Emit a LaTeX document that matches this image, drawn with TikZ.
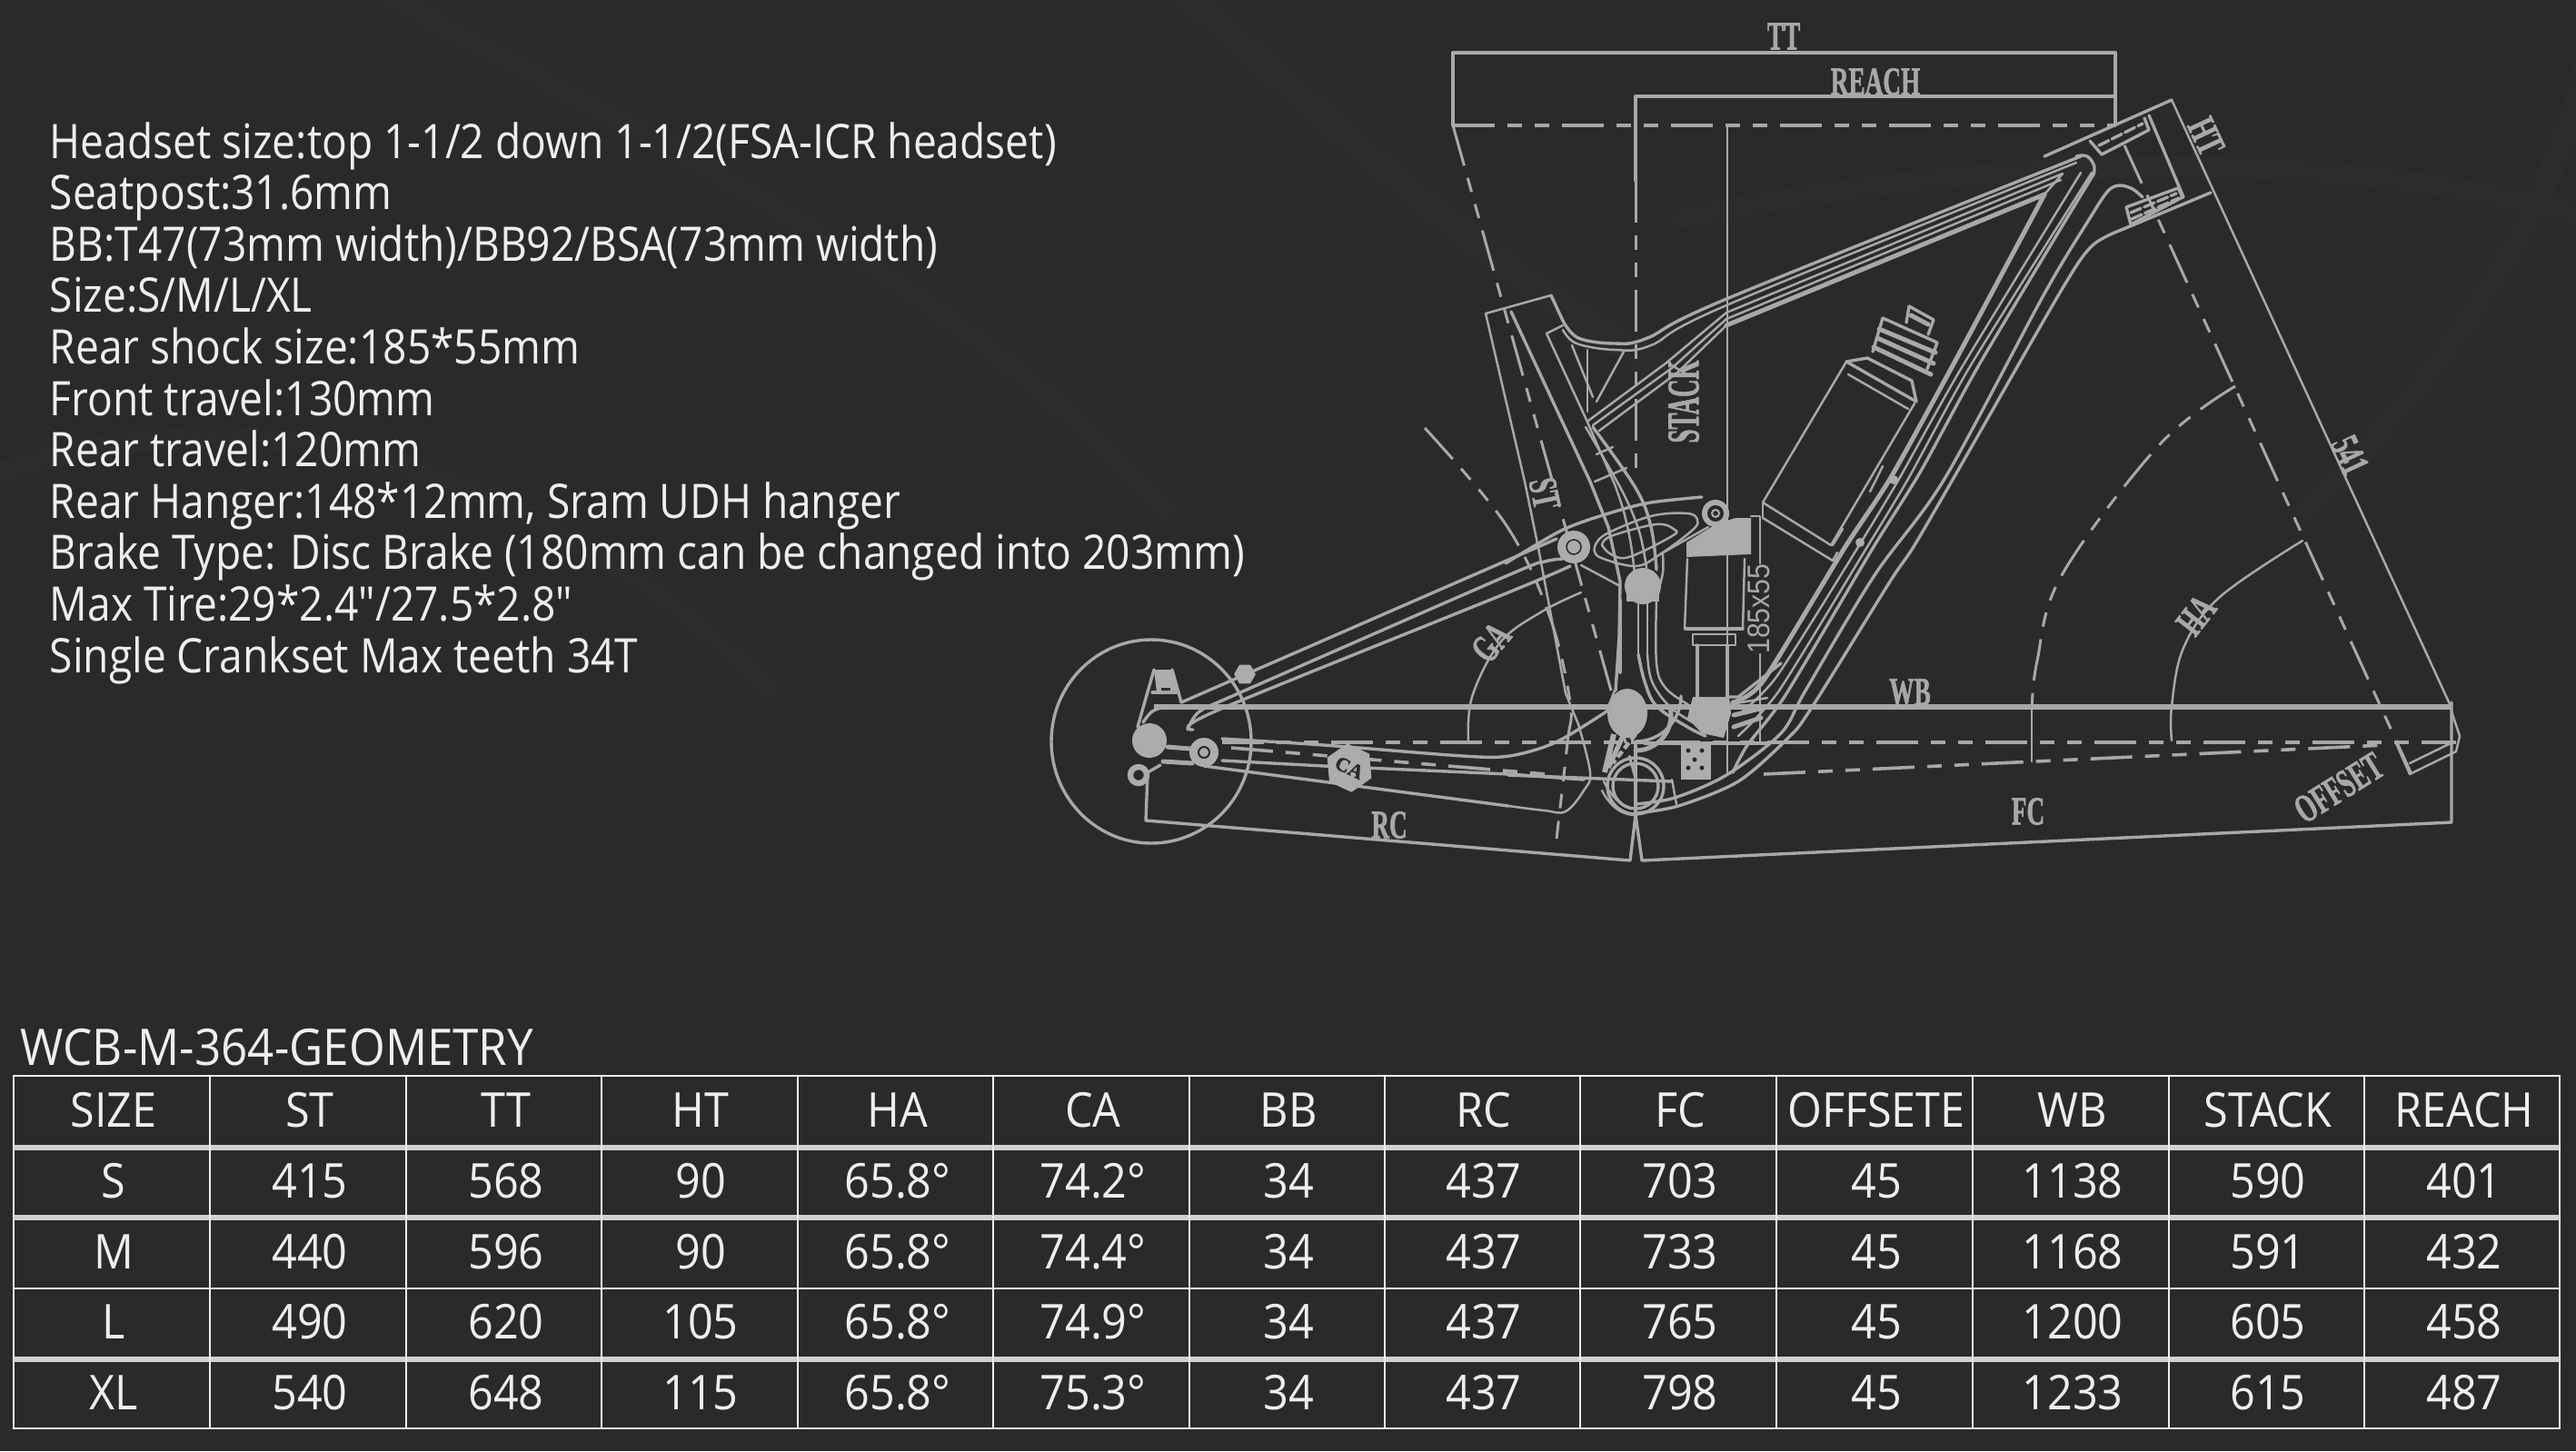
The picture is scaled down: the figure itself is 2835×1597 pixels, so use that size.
\documentclass[tikz,border=0pt]{standalone}
\usepackage{fontspec}
\usepackage{graphicx}
\usetikzlibrary{shapes.geometric}
\newfontfamily\osf{Open Sans}[FakeStretch=0.88]
\newfontfamily\osg{Open Sans}[FakeStretch=0.92]
\newfontfamily\lsb{Liberation Serif}[BoldFeatures={FakeBold=1.6}]
\newfontfamily\lsa{Liberation Sans}
\definecolor{bgc}{HTML}{292A2B}
\definecolor{bgb}{HTML}{2B2C2D}
\definecolor{ln}{HTML}{A8A8A8}
\definecolor{fl}{HTML}{ACACAC}
\definecolor{txt}{HTML}{EEEEEE}
\tikzset{
  thinl/.style={draw=ln,line width=.62pt,line join=round,line cap=round},
  midl/.style={draw=ln,line width=.85pt,line join=round,line cap=round},
  fatl/.style={draw=ln,line width=1.25pt,line join=round,line cap=round},
  dashl/.style={draw=ln,line width=.75pt,dash pattern=on 11.5pt off 3.5pt on 4pt off 3.5pt on 4pt off 3.5pt},
  dashb/.style={draw=ln,line width=.9pt,dash pattern=on 11.5pt off 3.5pt on 4pt off 3.5pt on 4pt off 3.5pt},
  fillp/.style={fill=fl,draw=fl,line width=.4pt,line join=round},
  dimlab/.style={text=ln,inner sep=0pt,font=\lsb\bfseries\fontsize{11}{11}\selectfont},
  infot/.style={text=txt,inner sep=0pt,anchor=base west,font=\osf\fontsize{13.1}{15}\selectfont},
  cellt/.style={text=txt,inner sep=0pt,anchor=base,font=\osg\fontsize{13.2}{15}\selectfont},
  thinrule/.style={draw=txt,line width=.7pt},
  thickrule/.style={draw=txt!85!bgc,line width=1.4pt},
}
\begin{document}
\begin{tikzpicture}[x=.25pt,y=-.25pt]
\useasboundingbox (0,0) rectangle (2835,1597);
\fill[bgc] (0,0) rectangle (2835,1597);
% faint background swooshes
\begin{scope}[draw=bgb,line cap=round]
\draw[line width=9pt] (1290,-20) .. controls (1500,170) and (1650,300) .. (1820,400);
\draw[line width=7pt] (400,-20) .. controls (700,150) and (1050,300) .. (1280,560);
\draw[line width=6pt] (1850,240) .. controls (2250,160) and (2600,170) .. (2850,240);
\draw[line width=7pt] (2540,560) .. controls (2680,420) and (2800,260) .. (2850,60);
\draw[line width=6pt] (0,520) .. controls (300,420) and (600,520) .. (850,760);
\end{scope}
% ---- text block
\foreach \t [count=\i] in {
 {Headset size:top 1-1/2 down 1-1/2(FSA-ICR headset)},
 {Seatpost:31.6mm},
 {BB:T47(73mm width)/BB92/BSA(73mm width)},
 {Size:S/M/L/XL},
 {Rear shock size:185*55mm},
 {Front travel:130mm},
 {Rear travel:120mm},
 {Rear Hanger:148*12mm, Sram UDH hanger},
 {Brake Type: Disc Brake (180mm can be changed into 203mm)},
 {Max Tire:29*2.4"/27.5*2.8"},
 {Single Crankset Max teeth 34T}}
 { \node[infot] (info\i) at (54,{155+(\i-1)*56.6+19}) {\t}; }
% ---- dimension lines
\draw[midl] (1599,138) -- (1599,58) -- (2328,58) -- (2328,138);
\draw[midl] (1800,199) -- (1800,106) -- (2326,106);
\draw[dashb] (1599,138) -- (2328,138);
\draw[dashl] (1800,199) -- (1800,520);
\draw[thinl] (1901,138) -- (1901,850);
\draw[dashl] (1599,138) -- (1801,860);
% head tube axis
\draw[dashl] (2338,160) -- (2653,850);
% CA arc, HA arc, GA arc
\draw[dashl] plot[smooth,tension=.6] coordinates {(2460,425) (2376,490) (2269,633) (2242,727) (2236,782)};
\draw[thinl] (2236,777) -- (2236,838);
\draw[thinl] plot[smooth,tension=.6] coordinates {(2534,595) (2443,657) (2403,713) (2390,777) (2390,815)};
\draw[thinl] plot[smooth,tension=.6] coordinates {(1740,652) (1697,673) (1651,707) (1620,767) (1616,817)};
\draw[dashl] plot[smooth,tension=.6] coordinates {(1568,471) (1657,577) (1705,677) (1728,773) (1725,817) (1713,923)};
% WB & BB level, FC level
\draw[draw=ln,line width=1.3pt] (1270,778) -- (2697,778);
\draw[dashb] (1345,817) -- (2703,817);
\draw[dashb] (1941,852) -- (2624,820);
% FC, RC dims
\draw[midl] (2698,773) -- (2698,905) -- (1807,947) -- (1800,897) -- (1794,947) -- (1261,903) -- (1263,850) -- (1277,842);
% fork offset
\draw[thinl] (2637,818) -- (2652,852) -- (2703,827) -- (2707,810) -- (2697,780);
\draw[thinl] (2652,840) -- (2697,818);
\draw[thinl] (2390,110) -- (2697,777);
% ---- head tube
\draw[midl] (2250,172) -- (2390,110);
\draw[midl] (2365,127) -- (2403,217);
\draw[midl] (2433,212) -- (2337,252);
\draw[midl] (2300,155) -- (2313,170) -- (2365,143) -- (2360,130);
\draw[midl,dash pattern=on 3pt off 1pt] (2310,160) -- (2358,136);
\draw[midl] (2340,228) -- (2397,207) -- (2402,217) -- (2345,247) -- (2340,228);
\draw[midl,dash pattern=on 3pt off 1pt] (2345,234) -- (2395,213);
\draw[midl,dash pattern=on 3pt off 1pt] (2346,241) -- (2398,218);
% ---- seat tube
\draw[thinl] (1635,345) -- (1707,325);
\draw[thinl] (1635,345) -- (1678,530) -- (1693,603) -- (1723,763) -- (1737,797);
\draw[thinl] plot[smooth,tension=.6] coordinates {(1737,797) (1750,850) (1743,870) (1723,893) (1700,892) (1660,887)};
\draw[midl] (1663,343) -- (1750,530) -- (1770,580) -- (1783,640) -- (1782,700) -- (1778,760);
\draw[thinl] (1702,367) -- (1745,460) -- (1777,533) ;
\draw[thinl] plot[smooth,tension=.6] coordinates {(1777,533) (1787,563) (1795,600) (1800,640)};
\draw[midl] plot[smooth,tension=.6] coordinates {(1753,470) (1800,537) (1817,580) (1823,627)};
\draw[thinl] plot[smooth,tension=.6] coordinates {(1745,470) (1785,540) (1804,585) (1812,625)};
\draw[thinl] (1757,500) -- (1775,492);
\draw[thinl] (1755,530) -- (1790,515);
\draw[thinl] (1702,367) -- (1720,358);
\draw[thinl] (1730,380) -- (1753,437);
\draw[thinl] (1747,385) -- (1747,453);
\draw[thinl] (1787,387) -- (1757,442);
% ---- top tube
\draw[midl] (1707,325) -- (1720,353);
\draw[midl] plot[smooth,tension=.6] coordinates {(1720,353) (1737,372) (1777,378) (1813,372) (1900,329) (2290,172)};
\draw[thinl] plot[smooth,tension=.6] coordinates {(1720,363) (1735,378) (1777,385) (1817,380) (1900,336) (2285,179)};
\draw[thinl] (1748,463) -- (1833,400) -- (1900,344) -- (2270,191);
\draw[thinl] (1753,468) -- (1840,405) -- (1900,351) -- (2268,198);
\draw[fatl] (1900,358) -- (2250,214);
\draw[thinl] (1760,474) -- (1846,410) -- (1900,358);
\draw[midl] plot[smooth,tension=.7] coordinates {(2285,172) (2297,172) (2305,184) (2302,195)};
% ---- down tube
\draw[fatl] plot[smooth,tension=.4] coordinates {(2250,214) (2147,406) (2080,527) (2030,603) (1940,750) (1907,773)};
\draw[thinl] (2250,214) -- (2270,191);
\draw[thinl] plot[smooth,tension=.4] coordinates {(2290,190) (2158,406) (2090,527) (2040,610) (1955,745) (1913,787)};
\draw[thinl] plot[smooth,tension=.4] coordinates {(2302,190) (2170,400) (2100,527) (2050,610) (1958,760) (1913,810)};
\draw[midl] plot[smooth,tension=.4] coordinates {(2305,190) (2180,398) (2113,520) (2060,605) (1965,765) (1923,820) (1907,850)};
% outer double
\draw[midl] plot[smooth,tension=.5] coordinates {(2358,217) (2347,208) (2333,204) (2320,210) (2300,240) (2250,323) (2140,527) (2063,633) (1987,760) (1960,807) (1900,853) (1843,878) (1800,885)};
\draw[midl] plot[smooth,tension=.5] coordinates {(2337,252) (2303,270) (2270,317) (2165,500) (2107,600) (2080,640) (1993,780) (1967,813) (1913,860) (1847,887) (1800,895)};
% marks on down tube
\fill[fl] (2084,528) circle (5);
\fill[fl] (2047,597) circle (5);
\draw[thinl] (2072,513) -- (2058,541);
\draw[thinl] (2028,582) -- (2017,600);
% ---- bottle
\draw[thinl] (2032,398) -- (1940,553) -- (2015,600) -- (2107,444);
\draw[midl] (2032,398) -- (2109,442) -- (2104,419) -- (2055,394) -- (2032,398);
\draw[thinl] (1940,570) -- (2017,617) -- (2022,608);
\draw[thinl] (1940,553) -- (1940,570);
\draw[thinl] (2034,412) -- (2100,450);
\draw[fatl] (2062,382) -- (2125,412);
\draw[fatl] (2066,372) -- (2128,400);
\draw[fatl] (2068,362) -- (2130,388);
\draw[midl] (2072,350) -- (2132,377) -- (2121,406);
\draw[midl] (2072,350) -- (2061,387);
\draw[midl] (2101,337) -- (2098,355);
\draw[midl] (2101,337) -- (2128,352) -- (2122,368);
\draw[fatl] (2103,347) -- (2122,357);
% ---- seat stays
\draw[midl] (1300,773) -- (1713,593);
\draw[midl] plot[smooth,tension=.5] coordinates {(1307,803) (1320,783) (1363,763) (1660,633) (1700,618) (1720,615)};
\draw[midl] plot[smooth,tension=.5] coordinates {(1313,803) (1337,783) (1660,652) (1728,623)};
\draw[midl] (1270,737) -- (1252,800);
\draw[midl] (1290,737) -- (1300,773);
\draw[midl] plot[smooth,tension=.6] coordinates {(1258,795) (1268,783) (1283,778) (1300,778)};
\node[fillp,regular polygon,regular polygon sides=6,minimum size=5.5pt,inner sep=0pt] (yoke) at (1370,742) {};
% ---- chain stays
\draw[midl] plot[smooth,tension=.5] coordinates {(1345,813) (1457,820) (1610,832) (1661,832) (1712,817) (1768,783)};
\draw[midl] (1345,837) -- (1457,843) -- (1661,852) -- (1743,858);
\draw[midl] (1325,843) -- (1660,887);
\draw[dashb] (1355,823) -- (1702,852);
\node[fillp,regular polygon,regular polygon sides=6,minimum size=9pt,inner sep=0pt,rotate=-25,text=bgc,font=\lsb\bfseries\fontsize{5.5}{6}\selectfont] (lCA) at (1485,845) {CA};
% rear wheel
\draw[midl] (1267,816) ellipse (110 and 112);
\fill[fl] (1265,815) circle (19);
\draw[fatl] (1285,822) -- (1310,824);
\draw[fatl] (1280,838) -- (1312,840);
\fill[fl] (1325,828) circle (16);
\draw[bgc,line width=.5pt] (1325,828) circle (6);
\draw[fl,line width=1.6pt] (1253,853) circle (9);
\draw[bgc,line width=.4pt] (1253,853) circle (3);
\fill[fl] (1270,737) -- (1290,737) -- (1297,762) -- (1273,762) -- cycle;
\fill[bgc] (1278,757) rectangle (1288,762);
\draw[midl] (1268,762) -- (1297,762);
% ---- rocker
\draw[midl] plot[smooth,tension=.5] coordinates {(1657,620) (1720,583) (1777,563) (1817,553) (1873,547)};
\draw[thinl] plot[smooth,tension=.6] coordinates {(1755,602) (1767,588) (1817,568) (1857,565) (1868,572) (1863,583) (1827,610) (1800,623) (1760,613) (1755,602)};
\draw[thinl] plot[smooth,tension=.6] coordinates {(1763,600) (1773,590) (1823,577) (1843,583) (1840,590) (1793,613) (1773,610) (1763,600)};
\draw[thinl] (1740,622) -- (1783,645);
\draw[thinl] (1827,610) -- (1880,580);
\fill[fl] (1732,602) circle (18);
\draw[bgc,line width=.4pt] (1732,602) circle (8);
\fill[fl] (1888,565) circle (15);
\fill[bgc] (1888,565) circle (9);
\draw[fl,line width=.5pt] (1888,565) circle (4);
\fill[fl] (1808,645) circle (20);
\fill[fl] (1790,635) rectangle (1826,662);
% ---- swing arm U
\draw[midl] (1783,660) -- (1783,740);
\draw[thinl] (1803,660) -- (1803,720);
\draw[thinl] (1813,660) -- (1813,720);
\draw[thinl] plot[smooth,tension=.6] coordinates {(1823,660) (1823,730) (1833,757) (1860,777) (1880,790)};
\draw[thinl] plot[smooth,tension=.6] coordinates {(1813,720) (1818,750) (1838,778) (1868,798)};
\draw[midl] plot[smooth,tension=.6] coordinates {(1803,720) (1810,750) (1823,777) (1857,800) (1877,810)};
\draw[thinl] plot[smooth,tension=.6] coordinates {(1830,610) (1830,630) (1825,650)};
\draw[midl] (1903,767) -- (1913,767) -- (1960,730);
\draw[thinl] (1905,775) -- (1945,768);
\draw[fatl] (1908,787) -- (1945,778);
\draw[fatl] (1908,800) -- (1938,790);
\draw[thinl] (1937,727) -- (1937,818);
% ---- shock
\fill[fl] (1856,597) -- (1888,577) -- (1910,570) -- (1927,570) -- (1927,610) -- (1856,613) -- cycle;
\draw[thinl] (1857,615) -- (1854,692) -- (1918,692) -- (1920,615);
\draw[midl] (1855,692) -- (1918,692);
\draw[thinl] (1863,698) -- (1910,698) -- (1910,710) -- (1863,710) -- cycle;
\draw[midl] (1868,710) -- (1868,770);
\draw[midl] (1901,710) -- (1901,770);
\fill[fl] (1863,767) -- (1903,767) -- (1905,785) -- (1897,812) -- (1873,807) -- (1857,790) -- cycle;
\draw[thinl] (1927,568) -- (1937,568) -- (1937,620);
\node[text=ln,inner sep=0pt,rotate=90,font=\lsa\fontsize{8.6}{9}\selectfont] (dimshock) at (1936,670) {\scalebox{.88}[1]{185x55}};
\draw[thinl] (1937,720) -- (1937,750);
% ---- BB
\draw[midl] (1800,865) circle (25);
\draw[midl] (1800,865) circle (31);
\draw[midl] (1660,853) -- (1840,860);
\draw[midl] (1800,820) -- (1800,900);
\draw[fatl] (1800,826) arc (90:-10:39);
\draw[midl] (1800,816) arc (90:0:50);
\draw[thinl] (1763,870) .. controls (1775,893) and (1790,897) .. (1800,897);
\draw[thinl] (1765,860) .. controls (1778,885) and (1790,889) .. (1800,890);
\draw[thinl] (1840,858) -- (1845,885);
\draw[midl] (1810,818) -- (1945,818);
\fill[fl] (1850,818) rectangle (1883,858);
\foreach \dx/\dy [count=\k] in {1858/826,1873/826,1858/845,1873/845,1865/836}
 { \fill[bgc] (\dx,\dy) circle (2.5); }
% left big lump and stipple
\fill[fl] (1791,785) ellipse (22 and 27);
\draw[fl,line width=1.5pt] (1776,808) -- (1766,850);
\draw[fl,line width=1.3pt] (1787,808) -- (1770,845);
\draw[fl,line width=1.1pt,dash pattern=on 2pt off 1pt] (1800,808) -- (1775,840);
\draw[thinl] (1768,783) -- (1777,760);
% ---- labels
\node[dimlab] (lTT) at (1963,40) {\scalebox{.62}[1]{TT}};
\node[dimlab] (lREACH) at (2064,90) {\scalebox{.62}[1]{REACH}};
\node[dimlab,rotate=-78] (lST) at (1700,543) {\scalebox{.62}[1]{ST}};
\node[dimlab,rotate=90,font=\lsb\bfseries\fontsize{12.5}{12.5}\selectfont] (lSTACK) at (1853,442) {\scalebox{.54}[1]{STACK}};
\node[dimlab,rotate=-65] (lHT) at (2428,150) {\scalebox{.62}[1]{HT}};
\node[dimlab,rotate=-65] (l541) at (2586,501) {\scalebox{.62}[1]{541}};
\node[dimlab] (lWB) at (2102,762) {\scalebox{.62}[1]{WB}};
\node[dimlab] (lFC) at (2232,893) {\scalebox{.62}[1]{FC}};
\node[dimlab] (lRC) at (1529,908) {\scalebox{.62}[1]{RC}};
\node[dimlab,rotate=32] (lOFF) at (2574,867) {\scalebox{.62}[1]{OFFSET}};
\node[dimlab,rotate=52] (lHA) at (2417,677) {\scalebox{.62}[1]{HA}};
\node[dimlab,rotate=50] (lGA) at (1641,707) {\scalebox{.62}[1]{GA}};
% ---- table
\node[text=txt,inner sep=0pt,anchor=base west,font=\osg\fontsize{13.9}{15}\selectfont] (title) at (22,1172) {WCB-M-364-GEOMETRY};
\draw[thinrule] (15,1184) rectangle (2817,1572);
\draw[thinrule] (15,1418) -- (2817,1418);
\foreach \yy in {1263,1340,1496} { \draw[thickrule] (15,\yy) -- (2817,\yy); }
\foreach \xx in {231,447,662,878,1093,1309,1524,1739,1955,2171,2387,2602} { \draw[thinrule] (\xx,1184) -- (\xx,1572); }
\foreach \yy/\vals [count=\r] in {
 1240/{SIZE,ST,TT,HT,HA,CA,BB,RC,FC,OFFSETE,WB,STACK,REACH},
 1318/{S,415,568,90,65.8°,74.2°,34,437,703,45,1138,590,401},
 1396/{M,440,596,90,65.8°,74.4°,34,437,733,45,1168,591,432},
 1473/{L,490,620,105,65.8°,74.9°,34,437,765,45,1200,605,458},
 1551/{XL,540,648,115,65.8°,75.3°,34,437,798,45,1233,615,487}}
{
 \foreach \t [count=\c] in \vals {
   \pgfmathsetmacro\cx{{125,341,557,771,988,1203,1418,1633,1849,2065,2281,2496,2712}[\c-1]}
   \node[cellt] (cell-\r-\c) at (\cx,\yy) {\t};
 }
}
\end{tikzpicture}
\end{document}
